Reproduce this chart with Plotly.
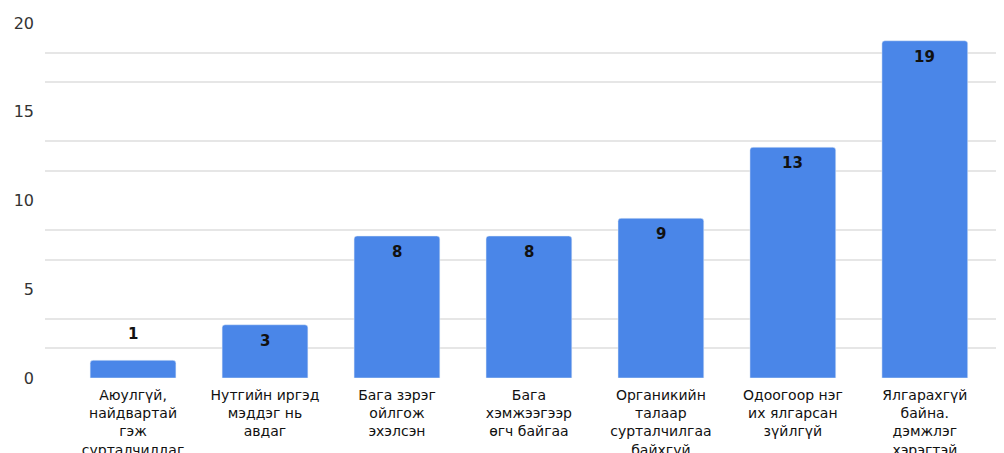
import plotly.graph_objects as go

categories = [
    "Аюулгүй,<br>найдвартай<br>гэж<br>сурталчилдаг",
    "Нутгийн иргэд<br>мэддэг нь<br>авдаг",
    "Бага зэрэг<br>ойлгож<br>эхэлсэн",
    "Бага<br>хэмжээгээр<br>өгч байгаа",
    "Органикийн<br>талаар<br>сурталчилгаа<br>байхгүй",
    "Одоогоор нэг<br>их ялгарсан<br>зүйлгүй",
    "Ялгарахгүй<br>байна.<br>дэмжлэг<br>хэрэгтэй",
]
values = [1, 3, 8, 8, 9, 13, 19]
y_ticks = [0, 5, 10, 15, 20]
grid_vals = [5/3, 10/3, 20/3, 25/3, 35/3, 40/3, 50/3, 55/3]

fig = go.Figure()
fig.add_trace(go.Bar(
    x=list(range(len(categories))),
    y=values,
    marker=dict(color="#4a86e8", cornerradius=3),
    width=0.65,
))

for i, v in enumerate(values):
    inside = v >= 3
    fig.add_annotation(
        x=i, y=v, text=f"<b>{v}</b>", showarrow=False,
        yanchor="middle", yshift=-16 if inside else 26,
        font=dict(family="DejaVu Sans, sans-serif", size=15, color="#111"),
    )

fig.update_layout(
    width=996, height=445,
    margin=dict(l=37, r=0, t=15, b=75),
    paper_bgcolor="white", plot_bgcolor="white",
    showlegend=False,
    font=dict(family="DejaVu Sans, sans-serif"),
    xaxis=dict(
        range=[-0.667, 6.6],
        tickvals=list(range(len(categories))),
        ticktext=categories,
        tickfont=dict(size=14, color="#111"),
        showgrid=False, zeroline=False, showline=False, ticks="",
        tickangle=0, automargin=False, ticklabelstandoff=7,
    ),
    yaxis=dict(
        range=[0, 20],
        tickvals=y_ticks,
        tickfont=dict(size=16, color="#333"),
        showgrid=False, zeroline=False, showline=False,
        ticklabelstandoff=10, automargin=False,
        minor=dict(tickvals=grid_vals, showgrid=True, gridcolor="#e6e6e6", gridwidth=1.5),
    ),
)

fig.write_html("out.html")
